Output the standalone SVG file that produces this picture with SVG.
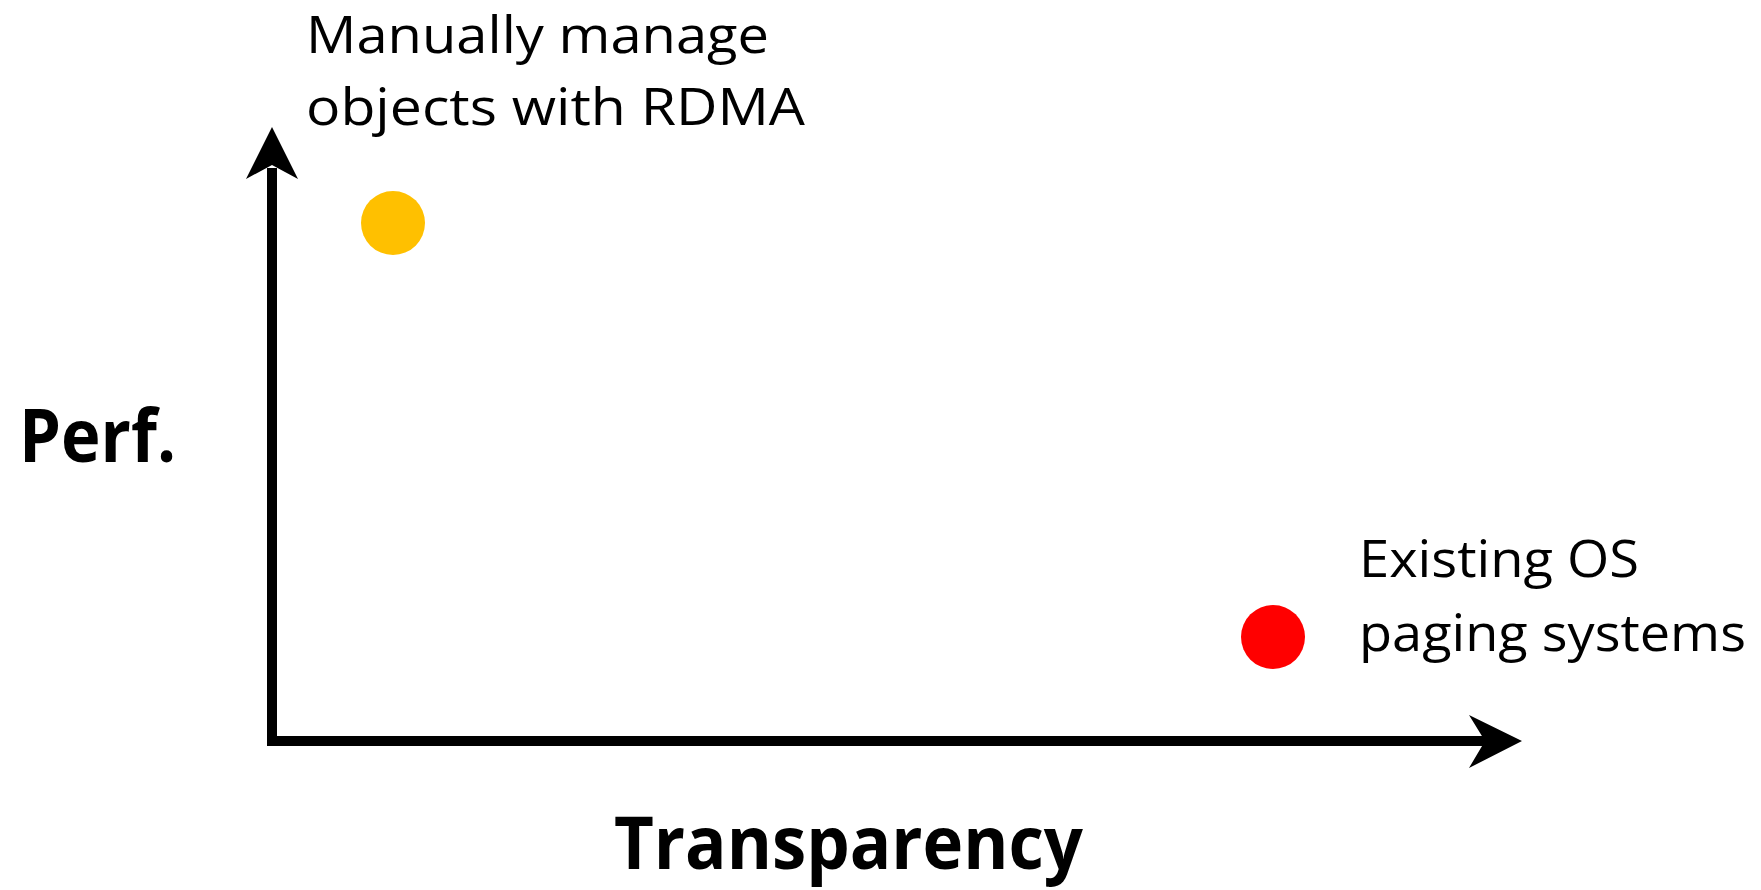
<svg xmlns="http://www.w3.org/2000/svg" width="1761" height="890" viewBox="0 0 1761 890">
  <style>
    .lbl { font-family: "Open Sans", "Noto Sans", "Liberation Sans", sans-serif; font-size: 52px; fill: #000; }
    .axis-title { font-family: "Open Sans", "Noto Sans", "Liberation Sans", sans-serif; font-size: 74px; font-weight: bold; fill: #000; }
    .axis { stroke: #000; stroke-width: 10; fill: none; }
  </style>
  <rect width="1761" height="890" fill="#fff"/>

  <!-- axes -->
  <g id="connectors">
    <path class="axis" d="M272,168 V746"/>
    <path class="axis" d="M267,741 H1486"/>
    <polygon points="272,127 298,179 272,165 246,179" fill="#000"/>
    <polygon points="1522,741 1469,768 1485,741 1469,715" fill="#000"/>
  </g>

  <!-- axis titles -->
  <g id="perf-title">
    <text class="axis-title" x="19" y="462" textLength="157" lengthAdjust="spacingAndGlyphs">Perf.</text>
  </g>
  <g id="transparency-title">
    <text class="axis-title" x="614" y="869" textLength="469" lengthAdjust="spacingAndGlyphs">Transparency</text>
  </g>

  <!-- data points -->
  <g id="rdma-point">
    <circle cx="393" cy="223" r="32" fill="#FFC000"/>
    <text class="lbl" x="306" y="53" textLength="463" lengthAdjust="spacingAndGlyphs">Manually manage</text>
    <text class="lbl" x="306" y="125" textLength="499" lengthAdjust="spacingAndGlyphs">objects with RDMA</text>
  </g>
  <g id="os-paging-point">
    <circle cx="1273" cy="637" r="32" fill="#FF0000"/>
    <text class="lbl" x="1359" y="577" textLength="280" lengthAdjust="spacingAndGlyphs">Existing OS</text>
    <text class="lbl" x="1359" y="651" textLength="387" lengthAdjust="spacingAndGlyphs">paging systems</text>
  </g>
</svg>
